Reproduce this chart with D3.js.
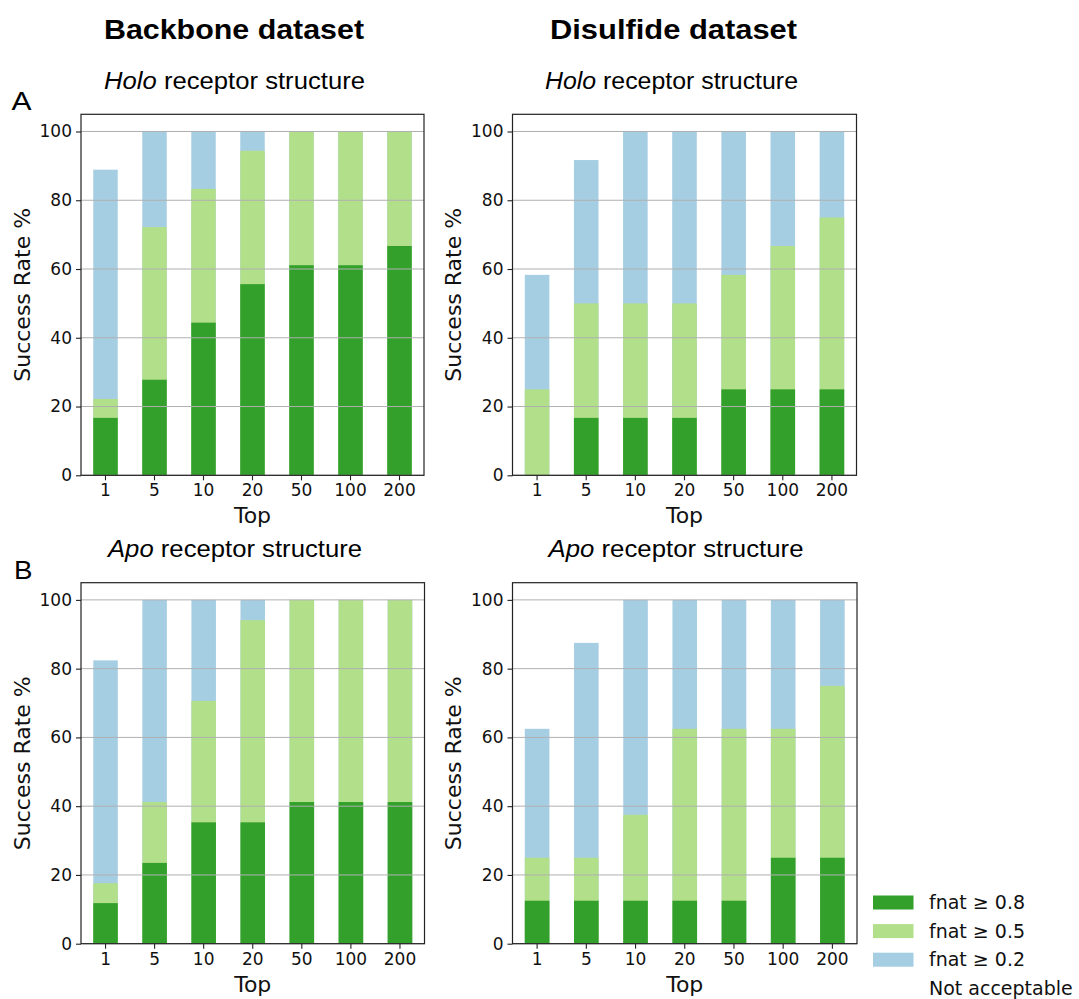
<!DOCTYPE html>
<html>
<head>
<meta charset="utf-8">
<script src="https://cdn.jsdelivr.net/npm/d3@7"></script>
<style>
  html, body { margin: 0; padding: 0; background: #fff; }
  svg { display: block; }
</style>
</head>
<body>
<svg id="chart" width="1079" height="999"></svg>
<script>
// Categories: number of top-ranked models considered
const tops = ["1", "5", "10", "20", "50", "100", "200"];

// Cumulative success rates (%) for each fnat threshold
const backboneHolo08 = [16.7, 27.8, 44.4, 55.6, 61.1, 61.1, 66.7];
const backboneHolo05 = [22.2, 72.2, 83.3, 94.4, 100, 100, 100];
const backboneHolo02 = [88.9, 100, 100, 100, 100, 100, 100];

const disulfideHolo08 = [0, 16.7, 16.7, 16.7, 25, 25, 25];
const disulfideHolo05 = [25, 50, 50, 50, 58.3, 66.7, 75];
const disulfideHolo02 = [58.3, 91.7, 100, 100, 100, 100, 100];

const backboneApo08 = [11.8, 23.5, 35.3, 35.3, 41.2, 41.2, 41.2];
const backboneApo05 = [17.6, 41.2, 70.6, 94.1, 100, 100, 100];
const backboneApo02 = [82.4, 100, 100, 100, 100, 100, 100];

const disulfideApo08 = [12.5, 12.5, 12.5, 12.5, 12.5, 25, 25];
const disulfideApo05 = [25, 25, 37.5, 62.5, 62.5, 62.5, 75];
const disulfideApo02 = [62.5, 87.5, 100, 100, 100, 100, 100];

const yTicks = [0, 20, 40, 60, 80, 100];

const seriesNames = ["fnat \u2265 0.8", "fnat \u2265 0.5", "fnat \u2265 0.2", "Not acceptable"];
const seriesColors = ["#33a02c", "#b2df8a", "#a6cee3", "#ffffff"];

const svg = d3.select("#chart");
const tickFont = "'DejaVu Sans', sans-serif";
const titleFont = "'Liberation Sans', Arial, sans-serif";

const panels = [
  { x0: 81, x1: 424, yBase: 475.3, title: ["Holo", " receptor structure"], tx: 234.5, ty: 88.5, tw: 261, data: [backboneHolo02, backboneHolo05, backboneHolo08] },
  { x0: 512.5, x1: 856.5, yBase: 475.3, title: ["Holo", " receptor structure"], tx: 671.5, ty: 88.5, tw: 253, data: [disulfideHolo02, disulfideHolo05, disulfideHolo08] },
  { x0: 81, x1: 424.5, yBase: 943.7, title: ["Apo", " receptor structure"], tx: 235, ty: 556.5, tw: 254, data: [backboneApo02, backboneApo05, backboneApo08] },
  { x0: 512.5, x1: 857, yBase: 943.7, title: ["Apo", " receptor structure"], tx: 676, ty: 556.5, tw: 255, data: [disulfideApo02, disulfideApo05, disulfideApo08] }
];

const backColors = [seriesColors[2], seriesColors[1], seriesColors[0]];

panels.forEach(p => {
  const plotH = 361;
  const yTop = p.yBase - plotH;
  const x = d3.scaleBand().domain(tops).range([p.x0, p.x1]).paddingInner(0.5).paddingOuter(0.25);
  const y = d3.scaleLinear().domain([0, 105]).range([p.yBase, yTop]);

  const g = svg.append("g");

  // Bars: each threshold drawn from zero, lowest threshold at the back
  p.data.forEach((vals, i) => {
    g.append("g").selectAll("rect").data(vals).join("rect")
      .attr("x", (d, j) => x(tops[j]))
      .attr("width", x.bandwidth())
      .attr("y", d => y(d))
      .attr("height", d => y(0) - y(d))
      .attr("fill", backColors[i]);
  });

  // Horizontal grid
  g.append("g").selectAll("line").data(yTicks).join("line")
    .attr("x1", p.x0).attr("x2", p.x1)
    .attr("y1", d => y(d)).attr("y2", d => y(d))
    .attr("stroke", "#b0b0b0").attr("stroke-width", 1);

  // Axes
  const yAxis = d3.axisLeft(y).tickValues(yTicks).tickSize(5).tickPadding(4).tickFormat(d3.format("d"));
  const yg = g.append("g").attr("transform", `translate(${p.x0},0)`).call(yAxis);
  const xAxis = d3.axisBottom(x).tickSize(5).tickPadding(4);
  const xg = g.append("g").attr("transform", `translate(0,${p.yBase})`).call(xAxis);
  [yg, xg].forEach(ax => {
    ax.select(".domain").remove();
    ax.selectAll(".tick line").attr("stroke", "#222").attr("stroke-width", 1.1);
    ax.selectAll(".tick text").attr("fill", "#111").style("font-family", tickFont).style("font-size", "17px");
  });

  // Frame
  g.append("rect")
    .attr("x", p.x0).attr("y", yTop)
    .attr("width", p.x1 - p.x0).attr("height", plotH)
    .attr("fill", "none").attr("stroke", "#222").attr("stroke-width", 1.2);

  // Axis labels
  g.append("text")
    .attr("x", (p.x0 + p.x1) / 2).attr("y", p.yBase + 48)
    .attr("text-anchor", "middle")
    .style("font-family", tickFont).style("font-size", "22px").attr("fill", "#111")
    .text("Top");
  g.append("text")
    .attr("transform", `translate(${p.x0 - 51.5},${(p.yBase + yTop) / 2}) rotate(-90)`)
    .attr("text-anchor", "middle")
    .style("font-family", tickFont).style("font-size", "22px").attr("fill", "#111")
    .text("Success Rate %");

  // Panel title with italic structure type
  const t = g.append("text")
    .attr("x", p.tx).attr("y", p.ty)
    .attr("text-anchor", "middle")
    .attr("textLength", p.tw).attr("lengthAdjust", "spacingAndGlyphs")
    .style("font-family", titleFont).style("font-size", "24.5px").attr("fill", "#000");
  t.append("tspan").style("font-style", "italic").text(p.title[0]);
  t.append("tspan").text(p.title[1]);
});

// Column headings
[["Backbone dataset", 234, 260], ["Disulfide dataset", 673.5, 247]].forEach(([txt, cx, w]) => {
  svg.append("text")
    .attr("x", cx).attr("y", 39)
    .attr("text-anchor", "middle")
    .attr("textLength", w).attr("lengthAdjust", "spacingAndGlyphs")
    .style("font-family", titleFont).style("font-size", "28px").style("font-weight", "bold")
    .text(txt);
});

// Row letters
[["A", 11.5, 109.5], ["B", 14, 578.5]].forEach(([txt, lx, ly]) => {
  svg.append("text")
    .attr("x", lx).attr("y", ly)
    .attr("textLength", txt === "A" ? 20 : 18.5).attr("lengthAdjust", "spacingAndGlyphs")
    .style("font-family", titleFont).style("font-size", "26.5px")
    .text(txt);
});

// Legend
const legend = svg.append("g");
const legendRows = d3.range(seriesNames.length);
legend.selectAll("rect").data(legendRows).join("rect")
  .attr("x", 873).attr("y", i => 895.5 + i * 28.6)
  .attr("width", 40.5).attr("height", 14)
  .attr("fill", i => seriesColors[i]);
legend.selectAll("text").data(legendRows).join("text")
  .attr("x", 929).attr("y", i => 909 + i * 28.6)
  .style("font-family", tickFont).style("font-size", "19px").attr("fill", "#111")
  .text(i => seriesNames[i]);
</script>
</body>
</html>
